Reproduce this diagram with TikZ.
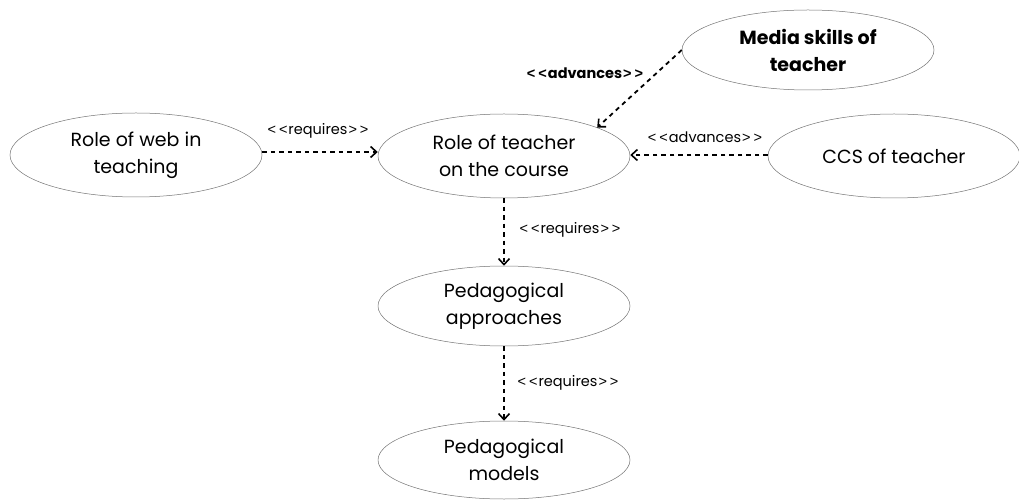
\documentclass[tikz,border=0pt]{standalone}
\usepackage{fontspec}
\setmainfont{Poppins}
\newfontfamily\bracketfont{Liberation Sans}
\usetikzlibrary{shapes.geometric,arrows.meta}
% stereotype guillemets typed as pairs of angle brackets
\newcommand{\stlt}{{\bracketfont<\kern3pt<\kern1pt}}
\newcommand{\stgt}{{\bracketfont\kern1pt>\kern3pt>}}
\begin{document}
\begin{tikzpicture}[x=1pt,y=-1pt,
  usecase/.style={ellipse,draw=black!55,line width=0.5pt,inner sep=0pt,
    minimum width=252pt,minimum height=84pt,align=center,
    font=\fontsize{19}{27}\selectfont},
  dep/.style={line width=1.8pt,dash pattern=on 4.5pt off 4pt,
    -{Straight Barb[length=6pt,width=11pt,line width=1.6pt]}},
  stereo/.style={font=\fontsize{14.5}{16}\selectfont,inner sep=0pt}]
\useasboundingbox (0,0) rectangle (1019,502);
\node[usecase] (web) at (136,155) {Role of web in\\teaching};
\node[usecase] (course) at (504,156) {Role of teacher\\on the course};
\node[usecase,minimum height=80pt,font=\fontsize{19}{27}\selectfont\bfseries] (media) at (808,50) {Media skills of\\teacher};
\node[usecase] (ccs) at (894,156) {CCS of teacher};
\node[usecase,minimum height=80pt] (approach) at (504,306) {Pedagogical\\approaches};
\node[usecase,minimum height=78pt] (models) at (504,460) {Pedagogical\\models};

\draw[dep] (web.east |- 0,152) -- (course.west |- 0,152);
\draw[dep] (ccs.west |- 0,155) -- (course.east |- 0,155);
\draw[dep] (media.west) -- (course.17);
\draw[dep] (course.south) -- (approach.north);
\draw[dep] (approach.south) -- (models.north);

\node[stereo] (l1) at (318,131) {\stlt requires\stgt};
\node[stereo] (l2) at (705,137) {\stlt advances\stgt};
\node[stereo,font=\fontsize{14.5}{16}\selectfont\bfseries] (l3) at (585,73) {\stlt advances\stgt};
\node[stereo] (l4) at (570,230) {\stlt requires\stgt};
\node[stereo] (l5) at (568,383) {\stlt requires\stgt};
\end{tikzpicture}
\end{document}
